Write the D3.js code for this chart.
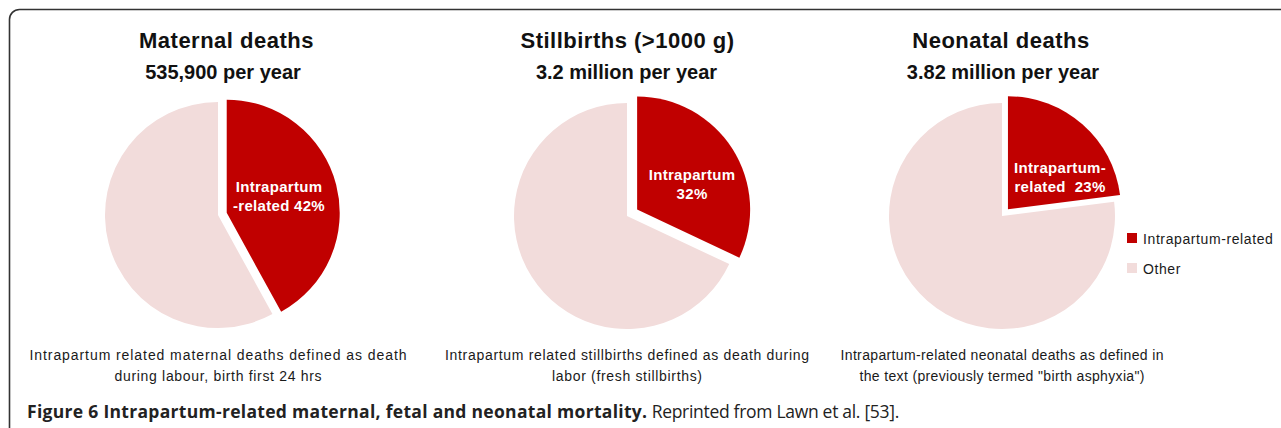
<!DOCTYPE html>
<html>
<head>
<meta charset="utf-8">
<script src="https://cdnjs.cloudflare.com/ajax/libs/d3/7.8.5/d3.min.js"></script>
<style>
  body { margin: 0; background: #fff; }
  svg { display: block; }
  .title { font-family: "Liberation Sans", Arial, sans-serif; font-weight: bold; fill: #111; }
  .note { font-family: "Liberation Sans", Arial, sans-serif; fill: #1a1a1a; }
  .inlabel { font-family: "Liberation Sans", Arial, sans-serif; font-weight: bold; fill: #fff; font-size: 15px; letter-spacing: 0.3px; }
  .caption { font-family: "Open Sans", sans-serif; font-size: 17.5px; fill: #222; }
</style>
</head>
<body>
<script>
// DATA
var titles = ["Maternal deaths", "Stillbirths (>1000 g)", "Neonatal deaths"];
var subtitles = ["535,900 per year", "3.2 million per year", "3.82 million per year"];
var intrapartumPct = [42, 32, 23];
var otherPct = [58, 68, 77];
var sliceLabels = [["Intrapartum", "-related 42%"], ["Intrapartum", "32%"], ["Intrapartum-", "related  23%"]];
var notes = [
  ["Intrapartum related maternal deaths defined as death", "during labour, birth first 24 hrs"],
  ["Intrapartum related stillbirths defined as death during", "labor (fresh stillbirths)"],
  ["Intrapartum-related neonatal deaths as defined in", "the text (previously termed \"birth asphyxia\")"]
];
var legendLabels = ["Intrapartum-related", "Other"];

// LAYOUT
var width = 1281, height = 428;
var centers = [[218, 215], [627, 216], [1002, 216]];
var titleX = [226.5, 627.5, 1001];
var subtitleX = [223, 626.5, 1003];
var noteWidths = [[377, 207], [364, 150], [323, 285]];
var radius = 113;
var explode = [9, 12, 9];
var labelNudge = [[-3.5, -6.5], [6.3, 1.3], [14, 7]];

var colors = d3.scaleOrdinal().domain(legendLabels).range(["#c00000", "#f2dcdb"]);

var svg = d3.select("body").append("svg")
    .attr("width", width)
    .attr("height", height);

// rounded frame, only top and left show
svg.append("rect")
    .attr("x", 9.5).attr("y", 9.5)
    .attr("width", 1320).attr("height", 460)
    .attr("rx", 10)
    .attr("fill", "none")
    .attr("stroke", "#333")
    .attr("stroke-width", 1.6);

var pie = d3.pie().sort(null).value(d => d.value);
var arc = d3.arc().innerRadius(0).outerRadius(radius);
var labelArc = d3.arc().innerRadius(0).outerRadius(radius * 1.02);

titles.forEach(function (t, i) {
    var cx = centers[i][0], cy = centers[i][1];
    var g = svg.append("g").attr("transform", "translate(" + cx + "," + cy + ")");

    var data = [
        { key: legendLabels[0], value: intrapartumPct[i] },
        { key: legendLabels[1], value: otherPct[i] }
    ];
    var arcs = pie(data);

    g.selectAll("path")
        .data(arcs)
        .enter()
        .append("path")
        .attr("d", arc)
        .attr("fill", d => colors(d.data.key))
        .attr("transform", function (d, j) {
            if (j > 0) return null;
            var a = (d.startAngle + d.endAngle) / 2;
            return "translate(" + (Math.sin(a) * explode[i]) + "," + (-Math.cos(a) * explode[i]) + ")";
        });

    // label inside red slice
    var red = arcs[0];
    var a = (red.startAngle + red.endAngle) / 2;
    var c = labelArc.centroid(red);
    var lx = c[0] + Math.sin(a) * explode[i] + labelNudge[i][0];
    var ly = c[1] - Math.cos(a) * explode[i] + labelNudge[i][1];
    g.append("text")
        .attr("class", "inlabel")
        .attr("text-anchor", "middle")
        .selectAll("tspan")
        .data(sliceLabels[i])
        .enter()
        .append("tspan")
        .attr("x", lx)
        .attr("y", (d, k) => ly + k * 19)
        .style("white-space", "pre")
        .text(d => d);

    // titles
    svg.append("text")
        .attr("class", "title")
        .attr("x", titleX[i]).attr("y", 48)
        .attr("text-anchor", "middle")
        .style("font-size", "22px")
        .style("letter-spacing", "0.5px")
        .text(t);
    svg.append("text")
        .attr("class", "title")
        .attr("x", subtitleX[i]).attr("y", 79)
        .attr("text-anchor", "middle")
        .style("font-size", "20px")
        .text(subtitles[i]);

    // notes under pie
    svg.append("text")
        .attr("class", "note")
        .attr("text-anchor", "middle")
        .style("font-size", "14px")
        .selectAll("tspan")
        .data(notes[i])
        .enter()
        .append("tspan")
        .attr("x", cx)
        .attr("y", (d, k) => 360 + k * 21)
        .attr("textLength", (d, k) => noteWidths[i][k])
        .attr("lengthAdjust", "spacing")
        .text(d => d);
});

// legend
var legend = svg.append("g").attr("transform", "translate(1127,233)");
var li = legend.selectAll("g")
    .data(legendLabels)
    .enter()
    .append("g")
    .attr("transform", (d, i) => "translate(0," + (i * 30) + ")");
li.append("rect")
    .attr("width", 10).attr("height", 10)
    .attr("fill", d => colors(d));
li.append("text")
    .attr("class", "note")
    .attr("x", 16).attr("y", 10.5)
    .style("font-size", "14px")
    .style("letter-spacing", "0.6px")
    .text(d => d);

// caption
var cap = svg.append("text")
    .attr("class", "caption")
    .attr("x", 27).attr("y", 418);
cap.append("tspan").style("font-weight", "bold").style("letter-spacing", "0.3px")
    .text("Figure 6 Intrapartum-related maternal, fetal and neonatal mortality.");
cap.append("tspan").style("letter-spacing", "-0.3px")
    .text(" Reprinted from Lawn et al. [53].");
</script>
</body>
</html>
